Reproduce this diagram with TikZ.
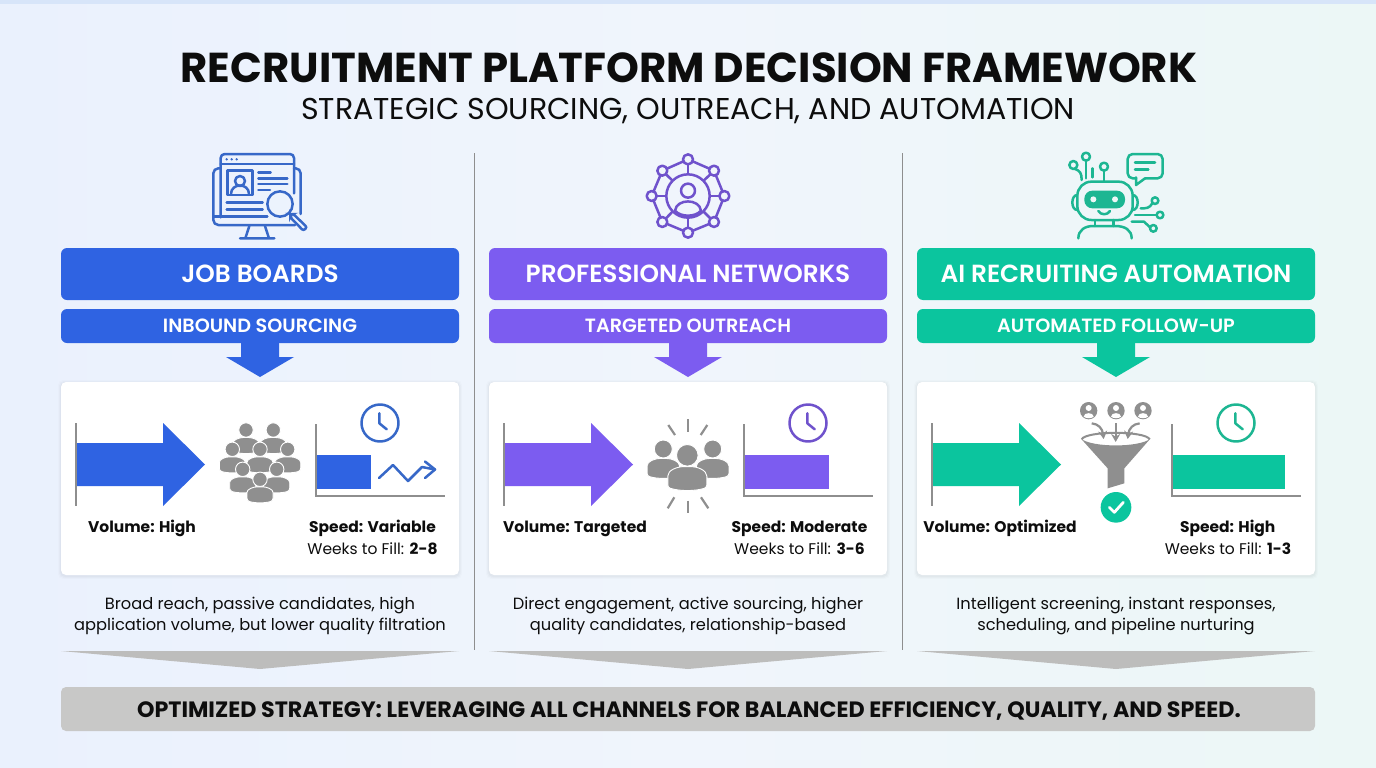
\documentclass[tikz,border=0pt]{standalone}
\usepackage{fontspec}
\setmainfont{Poppins}
\newfontfamily\semi{Poppins SemiBold}
\usetikzlibrary{arrows.meta}
\definecolor{cblue}{HTML}{2F63E2}
\definecolor{cpurple}{HTML}{7C5CF0}
\definecolor{cgreen}{HTML}{0BC59E}
\definecolor{iblue}{HTML}{3768C8}
\definecolor{ipurple}{HTML}{6F52CC}
\definecolor{igreen}{HTML}{1DB692}
\definecolor{pgray}{HTML}{8F8F8F}
\definecolor{axisgray}{HTML}{8E8E8E}
\definecolor{ink}{HTML}{0D0D0D}
\definecolor{chev}{HTML}{BDBDBC}
\definecolor{barc}{HTML}{C8C8C7}
\definecolor{bgl}{HTML}{EAF1FD}
\definecolor{bgm}{HTML}{F0F5FC}
\definecolor{bgr}{HTML}{ECF7F6}
\definecolor{strip}{HTML}{D7E5F9}
\definecolor{bga}{HTML}{F0F5FC}
\definecolor{bgb}{HTML}{EEF7F7}
\tikzset{
  headbox/.style={rounded corners=6pt,draw=none},
  axisline/.style={draw=axisgray,line width=1.6pt},
  iconline/.style={line width=2.5pt,line cap=round,line join=round},
  clockline/.style={line width=2.5pt,line cap=round,line join=round},
  pfill/.style={fill=pgray,draw=white,line width=.9pt},
  headtxt/.style={text=white,font=\fontsize{24.8}{26}\selectfont\semi,anchor=base},
  subtxt/.style={text=white,font=\fontsize{19.2}{22}\selectfont\semi,anchor=base},
  stat/.style={text=ink,font=\fontsize{15.5}{18}\selectfont\bfseries,anchor=base},
  weeks/.style={text=ink,font=\fontsize{15.5}{18}\selectfont,anchor=base},
  desc/.style={text=ink,font=\fontsize{16.25}{20}\selectfont,anchor=base},
}
\newcommand{\pers}[3]{%
  \begin{scope}[shift={(#1,#2)},scale=#3]
    \path[pfill] (0,0) circle[radius=7.2];
    \path[pfill,rounded corners=2.5pt] (-13,21.5) -- (-13,15.5) .. controls (-13,10) and (-7,7.5) .. (0,7.5) .. controls (7,7.5) and (13,10) .. (13,15.5) -- (13,21.5) .. controls (5,24) and (-5,24) .. (-13,21.5) -- cycle;
  \end{scope}}
% #1 suffix #2 colour #3 icon colour #4 header #5 sub #6 bar width
\newcommand{\colblock}[6]{%
  \path[headbox,fill=#2] (61,248) rectangle (459,300);
  \path[headbox,fill=#2] (61,309) rectangle (459,343);
  \node[headtxt] (head#1) at (260,282.5) {#4};
  \node[subtxt] (sub#1) at (260,332) {#5};
  \path[fill=#2] (241,343) -- (279,343) -- (279,357) -- (294,357) -- (260,377) -- (226,357) -- (241,357) -- cycle;
  \foreach \g/\o in {3/.012,2/.018,1/.025}{\path[fill=black,opacity=\o,rounded corners=5pt] (61-\g,382-\g+1) rectangle (459+\g,575+\g+1);}
  \path[fill=white,rounded corners=5pt] (61,382) rectangle (459,575);
  \path[fill=#2] (77,443) -- (163,443) -- (163,423) -- (205,464.5) -- (163,506) -- (163,486) -- (77,486) -- cycle;
  \path[axisline] (75.7,423) -- (75.7,506);
  \path[fill=#2] (317,455) rectangle (317+#6,489);
  \path[axisline] (316,424) -- (316,496) -- (445,496);
  \path[draw=#3,clockline] (380,423) circle[radius=18.5];
  \path[draw=#3,clockline] (379.3,413.3) -- (379.3,423.3) -- (386.7,429.3);
  \path[fill=chev] (61,651) -- (459,651) -- (260,669) -- cycle;
}
\begin{document}
\begin{tikzpicture}[x=1pt,y=-1pt]
\useasboundingbox (0,0) rectangle (1376,768);
\shade[left color=bgl,right color=bgr,middle color=bgm] (0,0) rectangle (1376,768);
\path[fill=strip] (0,0) rectangle (1376,4);
\node[text=ink,font=\fontsize{41.8}{44}\selectfont\bfseries,anchor=base] (title) at (689,82) {RECRUITMENT PLATFORM DECISION FRAMEWORK};
\node[text=ink,font=\fontsize{30.1}{32}\selectfont,anchor=base] (subtitle) at (688,119) {STRATEGIC SOURCING, OUTREACH, AND AUTOMATION};
\path[draw=axisgray,line width=1pt] (474,153) -- (474,650);
\path[draw=axisgray,line width=1pt] (902,153) -- (902,650);

\colblock{a}{cblue}{iblue}{JOB BOARDS}{INBOUND SOURCING}{54}
\begin{scope}[xshift=428pt]\colblock{b}{cpurple}{ipurple}{PROFESSIONAL NETWORKS}{TARGETED OUTREACH}{84}\end{scope}
\begin{scope}[xshift=856pt]\colblock{c}{cgreen}{igreen}{AI RECRUITING AUTOMATION}{AUTOMATED FOLLOW-UP}{112}\end{scope}

% column 1 details
\pers{246}{430}{1}\pers{273.3}{430}{1}
\pers{232.3}{449.3}{1}\pers{287.7}{449.3}{1}\pers{260}{449.3}{1}
\pers{242.7}{469.3}{1}\pers{276.7}{469.3}{1}\pers{260}{479.3}{1}
\draw[draw=iblue,clockline] (379,478) -- (393,465) -- (408,481) -- (422,467) -- (435,469.5);
\draw[draw=iblue,clockline] (425,461.5) -- (435,469.5) -- (425,478);

\node[stat] (va) at (142,532.5) {Volume: High};
\node[stat] (sa) at (372.5,532.5) {Speed: Variable};
\node[weeks] (wa) at (372.5,554) {Weeks to Fill: \textbf{2-8}};
\node[desc] (da1) at (260,609) {Broad reach, passive candidates, high};
\node[desc] (da2) at (260,630) {application volume, but lower quality filtration};

% column 2 details
\pers{663.3}{449}{1.25}\pers{712.7}{449}{1.25}\pers{687.3}{455.3}{1.5}
\foreach \a/\b/\c/\d in {687.7/419/687.7/431.7, 668.3/425/675/435, 707.3/425/700.7/435, 687.7/500.7/687.7/513.3, 674.3/497.3/667.7/508.3, 701/497.3/708.3/508.3}{
  \draw[draw=pgray,line width=2.2pt] (\a,\b) -- (\c,\d);}

\node[stat] (vb) at (575,532.5) {Volume: Targeted};
\node[stat] (sb) at (799.5,532.5) {Speed: Moderate};
\node[weeks] (wb) at (799.5,554) {Weeks to Fill: \textbf{3-6}};
\node[desc] (db1) at (688,609) {Direct engagement, active sourcing, higher};
\node[desc] (db2) at (688,630) {quality candidates, relationship-based};

% column 3 details
\begin{scope}[shift={(915,380)},scale=0.33333]
  \foreach \cx in {521,603,684}{
    \path[fill=pgray] (\cx,92) circle[radius=26];
    \path[fill=white] (\cx,84) circle[radius=9];
    \path[fill=white] (\cx-15,110) .. controls (\cx-15,96) and (\cx+15,96) .. (\cx+15,110) .. controls (\cx+8,116) and (\cx-8,116) .. (\cx-15,110) -- cycle;
  }
  \draw[draw=pgray,line width=2pt] (500,178) .. controls (512,152) and (692,152) .. (704,178);
  \path[fill=pgray] (498,176) .. controls (530,203) and (674,203) .. (706,176) -- (628,265) -- (628,310) -- (578,325) -- (578,265) -- cycle;
  \draw[draw=pgray,line width=2.2pt,-{Stealth[length=8pt,width=9pt]}] (530,130) .. controls (550,132) and (562,145) .. (566,177);
  \draw[draw=pgray,line width=2.2pt,-{Stealth[length=8pt,width=9pt]}] (602,130) -- (602,186);
  \draw[draw=pgray,line width=2.2pt,-{Stealth[length=8pt,width=9pt]}] (674,130) .. controls (654,132) and (642,145) .. (638,177);
  \path[fill=cgreen] (603,382) circle[radius=46];
  \draw[draw=white,line width=2.8pt,line cap=round,line join=round] (583,382) -- (598,397) -- (625,367);
\end{scope}

\node[stat] (vc) at (1000,532.5) {Volume: Optimized};
\node[stat] (sc) at (1227.7,532.5) {Speed: High};
\node[weeks] (wc) at (1228,554) {Weeks to Fill: \textbf{1-3}};
\node[desc] (dc1) at (1116,609) {Intelligent screening, instant responses,};
\node[desc] (dc2) at (1116,630) {scheduling, and pipeline nurturing};

% top icon 1
\begin{scope}[shift={(180,140)},scale=0.33333,draw=iblue]
  \draw[iconline,rounded corners=4pt] (122,232) -- (122,42) -- (342,42) -- (342,160);
  \draw[iconline] (122,72) -- (342,72);
  \foreach \q in {140,155,170}{\path[fill=iblue] (\q,58) circle[radius=4];}
  \draw[iconline,rounded corners=5pt] (122,85) -- (100,85) -- (100,255) -- (345,255);
  \draw[iconline,rounded corners=5pt] (342,85) -- (362,85) -- (362,222);
  \draw[iconline] (100,230) -- (262,230);
  \draw[iconline] (208,258) -- (196,295) (255,258) -- (267,295) (180,295) -- (283,295);
  \draw[iconline] (142,92) rectangle (217,165);
  \draw[iconline] (180,123) circle[radius=15];
  \draw[iconline] (153,162) .. controls (153,128) and (207,128) .. (207,162);
  \draw[iconline] (235,97) -- (272,97) (235,115) -- (322,115) (235,132) -- (322,132) (235,150) -- (270,150) (140,188) -- (248,188) (140,208) -- (248,208);
  \draw[iconline] (300,192) circle[radius=38];
  \draw[draw=iblue,line width=2.5pt,line cap=round,rounded corners=2pt] (331,222) -- (340,222) -- (381,262) -- (370,272) -- (331,232) -- cycle;
\end{scope}

% top icon 2
\begin{scope}[shift={(620,140)},scale=0.33333,draw=ipurple]
  \draw[iconline] (204,58) -- (282,92) -- (313,168) -- (282,246) -- (204,278) -- (127,246) -- (95,168) -- (127,92) -- cycle;
  \foreach \a/\b in {204/58,282/92,313/168,282/246,204/278,127/246,95/168,127/92}{\draw[iconline] (204,168) -- (\a,\b);}
  \path[fill=bga] (204,168) circle[radius=65];
  \draw[iconline] (204,168) circle[radius=65];
  \foreach \a/\b in {204/58,282/92,313/168,282/246,204/278,127/246,95/168,127/92}{\draw[iconline,fill=bga] (\a,\b) circle[radius=15];}
  \draw[iconline] (204,152) circle[radius=21];
  \draw[iconline] (165,212) .. controls (170,175) and (238,175) .. (243,212) .. controls (225,232) and (183,232) .. (165,212) -- cycle;
\end{scope}

% top icon 3
\begin{scope}[shift={(1050,140)},scale=0.33333,draw=igreen]
  \draw[iconline,rounded corners=14pt] (82,125) rectangle (248,240);
  \path[fill=igreen,rounded corners=8pt] (103,152) rectangle (225,205);
  \path[fill=bgb] (130,178) circle[radius=9];
  \path[fill=bgb] (195,178) circle[radius=9];
  \draw[iconline] (145,213) .. controls (152,226) and (173,226) .. (180,213);
  \draw[iconline] (82,165) .. controls (62,165) and (62,210) .. (82,210);
  \draw[iconline] (248,165) .. controls (268,165) and (268,210) .. (248,210);
  \draw[iconline] (135,240) -- (135,258) (190,240) -- (190,258);
  \draw[iconline] (85,295) .. controls (85,270) and (105,258) .. (130,258) -- (195,258) .. controls (225,258) and (245,270) .. (245,295);
  \draw[iconline] (70,75) circle[radius=12];
  \draw[iconline] (75,87) .. controls (90,92) and (95,100) .. (95,120);
  \draw[iconline] (108,50) circle[radius=12];
  \draw[iconline] (108,62) -- (108,115) (128,85) -- (128,112) (162,92) -- (162,125);
  \draw[iconline] (162,80) circle[radius=12];
  \draw[iconline,rounded corners=5pt] (258,115) -- (233,115) -- (233,42) -- (338,42) -- (338,115) -- (285,115);
  \draw[iconline] (258,112) -- (258,135) -- (285,115);
  \draw[iconline] (255,68) -- (315,68) (255,88) -- (295,88);
  \draw[iconline] (315,182) circle[radius=10];
  \draw[iconline] (307,190) .. controls (298,205) and (290,205) .. (272,205);
  \draw[iconline] (330,225) circle[radius=10];
  \draw[iconline] (255,225) -- (320,225);
  \draw[iconline] (245,245) -- (282,245) -- (300,262);
  \draw[iconline] (310,265) circle[radius=10];
\end{scope}

% bottom bar
\path[fill=barc,rounded corners=5pt] (61,687) rectangle (1315,731);
\node[text=ink,font=\fontsize{22.2}{24}\selectfont\bfseries,anchor=base] (bar) at (689,717) {OPTIMIZED STRATEGY: LEVERAGING ALL CHANNELS FOR BALANCED EFFICIENCY, QUALITY, AND SPEED.};
\end{tikzpicture}
\end{document}
